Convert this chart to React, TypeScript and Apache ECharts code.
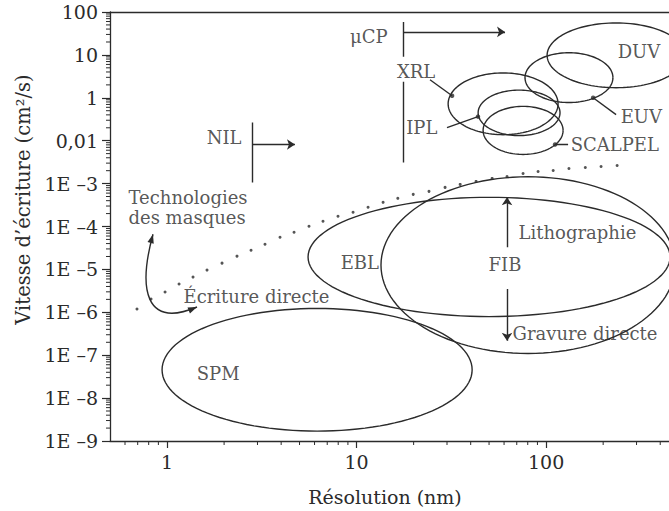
import React, { useEffect, useRef } from 'react';
import * as echarts from 'echarts';

// ---- axes ----
const yTickLabels = ['1E –9', '1E –8', '1E –7', '1E –6', '1E –5', '1E –4', '1E –3', '0,01', '1', '10', '100'];
const xTickValues = [1, 10, 100];
const xTickLabels = ['1', '10', '100'];
const xMinorTickValues = [0.6, 0.7, 0.8, 0.9, 2, 3, 4, 5, 6, 7, 8, 9, 20, 30, 40, 50, 60, 70, 80, 90, 200, 300, 400];
const yMinorTickOffsets = [0.301, 0.477, 0.602, 0.699, 0.778, 0.845, 0.903, 0.954];

// ---- technology regions (resolution nm centre, speed level centre, half-width in decades, half-height in levels) ----
const regionNames = ['SPM', 'EBL', 'FIB', 'XRL', 'IPL', 'SCALPEL', 'EUV', 'DUV'];
const regionCenterNm = [6.19, 50, 80.3, 59.3, 72, 75.6, 132, 234];
const regionCenterLevel = [1.66, 4.29, 4.1, 7.86, 7.65, 7.24, 8.47, 8.99];
const regionHalfDecades = [0.818, 0.955, 0.776, 0.29, 0.216, 0.211, 0.232, 0.364];
const regionHalfLevels = [1.43, 1.39, 2.06, 0.72, 0.53, 0.56, 0.58, 0.755];

// ---- dotted boundary (masks vs direct writing) ----
const dottedNm = [0.694, 0.823, 0.976, 1.157, 1.371, 1.625, 1.95, 2.339, 2.774, 3.288, 3.945, 4.677, 5.61, 6.65, 7.98, 9.58, 11.5, 13.8, 16.5, 19.9, 24.1, 29.3, 35.2, 42.7, 51.9, 62.2, 75.6, 90.7, 109, 132, 161, 195, 237];
const dottedLevel = [3.078, 3.31, 3.473, 3.659, 3.821, 3.984, 4.146, 4.309, 4.448, 4.588, 4.75, 4.866, 5.006, 5.122, 5.238, 5.331, 5.447, 5.563, 5.656, 5.749, 5.819, 5.912, 5.981, 6.051, 6.121, 6.167, 6.237, 6.283, 6.307, 6.353, 6.376, 6.399, 6.423];

// ---- annotation marks ----
const plainSegments = [
  [[2.81, 7.422], [2.81, 6.028]],
  [[17.6, 9.768], [17.6, 8.955]],
  [[17.6, 8.374], [17.6, 6.492]],
  [[24.4, 8.42], [31.9, 8.049]],
  [[30.0, 7.305], [43.7, 7.561]],
  [[111.5, 6.911], [130.6, 6.911]],
  [[177, 8.002], [234, 7.607]],
];
const arrowSegments = [
  [[2.81, 6.911], [4.73, 6.911]],
  [[17.6, 9.536], [60.7, 9.536]],
  [[62.2, 4.518], [62.2, 5.679]],
  [[62.2, 3.542], [62.2, 2.334]],
];
// cubic curve: start, control 1, control 2, end (nm, level pairs)
const curvedArrow = [0.843, 4.82, 0.703, 3.542, 0.765, 2.613, 1.439, 3.124];
const markerDots = [[31.9, 8.049], [43.7, 7.561], [111.5, 6.911], [177, 8.002]];

// ---- texts ----
const labelTexts = ['SPM', 'EBL', 'FIB', 'Lithographie', 'Gravure directe', 'Écriture directe', 'Technologies\ndes masques', 'NIL', 'μCP', 'XRL', 'IPL', 'SCALPEL', 'EUV', 'DUV'];
const labelNm = [1.86, 10.4, 60.7, 71.1, 66.1, 1.214, 0.622, 2.0, 11.6, 20.6, 22.1, 134, 246, 309];
const labelLevel = [1.568, 4.17, 4.123, 4.866, 2.497, 3.357, 5.447, 7.073, 9.419, 8.606, 7.305, 6.911, 7.561, 9.071];
const leftAlignedLabels = new Set(['Lithographie', 'Gravure directe', 'Écriture directe', 'Technologies\ndes masques', 'SCALPEL', 'EUV']);

const FONT = 'DejaVu Serif';
const INK = '#2b2b2b';
const X_MIN = 0.5;
const X_MAX = 445;

function arrowHead(tip: number[], from: number[], len: number, half: number) {
  const dx = tip[0] - from[0];
  const dy = tip[1] - from[1];
  const d = Math.sqrt(dx * dx + dy * dy) || 1;
  const ux = dx / d;
  const uy = dy / d;
  const bx = tip[0] - ux * len;
  const by = tip[1] - uy * len;
  return [
    [tip[0], tip[1]],
    [bx - uy * half, by + ux * half],
    [bx + uy * half, by - ux * half],
  ];
}

export default function App() {
  const ref = useRef<HTMLDivElement>(null);
  useEffect(() => {
    if (!ref.current) return;
    document.body.style.margin = '0';
    document.body.style.overflow = 'hidden';
    const chart = echarts.init(ref.current, null, { renderer: 'svg' });

    const regionData = regionNames.map((n, i) => ({
      name: n,
      value: [regionCenterNm[i], regionCenterLevel[i], regionHalfDecades[i], regionHalfLevels[i]],
    }));

    const xMinorData = xMinorTickValues.map((v) => [v, 0]);
    const yMinorData: number[][] = [];
    for (let l = 0; l < yTickLabels.length - 1; l++) {
      yMinorTickOffsets.forEach((o) => yMinorData.push([X_MIN, l + o]));
    }

    const labelData = labelTexts.map((t, i) => {
      const left = leftAlignedLabels.has(t);
      return {
        name: t,
        value: [labelNm[i], labelLevel[i]],
        label: left
          ? { position: 'right', distance: 0, align: 'left' }
          : { position: 'inside', align: 'center' },
      };
    });

    const option: any = {
      animation: false,
      backgroundColor: '#ffffff',
      grid: { left: 110, right: 0, top: 12, bottom: 68.5, containLabel: false },
      xAxis: [
        {
          type: 'log',
          min: X_MIN,
          max: X_MAX,
          position: 'bottom',
          name: 'Résolution (nm)',
          nameLocation: 'middle',
          nameGap: 46,
          nameTextStyle: { fontFamily: FONT, fontSize: 19, color: INK, padding: [0, 9, 0, 0] },
          axisLine: { lineStyle: { color: INK, width: 1.3 } },
          axisTick: { show: true, length: 7, lineStyle: { color: INK, width: 1.2 } },
          minorTick: { show: false },
          splitLine: { show: false },
          axisLabel: {
            fontFamily: FONT,
            fontSize: 19,
            color: INK,
            margin: 11,
            showMinLabel: false,
            showMaxLabel: false,
            formatter: (v: number) => {
              const idx = xTickValues.findIndex((t) => Math.abs(t - v) / t < 1e-6);
              return idx >= 0 ? xTickLabels[idx] : '';
            },
          },
        },
        {
          type: 'log',
          min: X_MIN,
          max: X_MAX,
          position: 'top',
          axisLine: { show: true, lineStyle: { color: INK, width: 1.3 } },
          axisTick: { show: false },
          axisLabel: { show: false },
          splitLine: { show: false },
        },
      ],
      yAxis: {
        type: 'value',
        min: 0,
        max: 10,
        interval: 1,
        name: 'Vitesse d’écriture (cm²/s)',
        nameLocation: 'middle',
        nameGap: 75,
        nameTextStyle: { fontFamily: FONT, fontSize: 19.5, color: INK, padding: [0, 0, 0, 54] },
        axisLine: { show: true, lineStyle: { color: INK, width: 1.3 } },
        axisTick: { show: true, length: 8, lineStyle: { color: INK, width: 1.2 } },
        splitLine: { show: false },
        axisLabel: {
          fontFamily: FONT,
          fontSize: 19,
          color: INK,
          margin: 12,
          formatter: (v: number) => yTickLabels[Math.round(v)] ?? '',
        },
      },
      series: [
        {
          type: 'custom',
          name: 'regions',
          coordinateSystem: 'cartesian2d',
          clip: true,
          data: regionData,
          renderItem: (params: any, api: any) => {
            const cx = Math.log10(api.value(0));
            const cy = api.value(1);
            const rx = api.value(2);
            const ry = api.value(3);
            const pts: number[][] = [];
            const N = 120;
            for (let k = 0; k <= N; k++) {
              const t = (k / N) * Math.PI * 2;
              pts.push(api.coord([Math.pow(10, cx + rx * Math.cos(t)), cy + ry * Math.sin(t)]));
            }
            return {
              type: 'polyline',
              shape: { points: pts },
              style: { fill: 'none', stroke: INK, lineWidth: 1.4 },
            };
          },
        },
        {
          type: 'custom',
          name: 'xMinorTicks',
          coordinateSystem: 'cartesian2d',
          clip: false,
          data: xMinorData,
          renderItem: (params: any, api: any) => {
            const p = api.coord([api.value(0), api.value(1)]);
            return {
              type: 'line',
              shape: { x1: p[0], y1: p[1], x2: p[0], y2: p[1] + 4 },
              style: { stroke: INK, lineWidth: 1 },
            };
          },
        },
        {
          type: 'custom',
          name: 'yMinorTicks',
          coordinateSystem: 'cartesian2d',
          clip: false,
          data: yMinorData,
          renderItem: (params: any, api: any) => {
            const p = api.coord([api.value(0), api.value(1)]);
            return {
              type: 'line',
              shape: { x1: p[0] - 4, y1: p[1], x2: p[0], y2: p[1] },
              style: { stroke: INK, lineWidth: 1 },
            };
          },
        },
        {
          type: 'custom',
          name: 'curvedArrow',
          coordinateSystem: 'cartesian2d',
          clip: false,
          data: [curvedArrow],
          renderItem: (params: any, api: any) => {
            const p = [0, 1, 2, 3].map((i) => api.coord([api.value(2 * i), api.value(2 * i + 1)]));
            return {
              type: 'group',
              children: [
                {
                  type: 'bezierCurve',
                  shape: {
                    x1: p[0][0], y1: p[0][1],
                    cpx1: p[1][0], cpy1: p[1][1],
                    cpx2: p[2][0], cpy2: p[2][1],
                    x2: p[3][0], y2: p[3][1],
                  },
                  style: { fill: 'none', stroke: INK, lineWidth: 1.4 },
                },
                {
                  type: 'polygon',
                  shape: { points: arrowHead(p[0], p[1], 9, 3.2) },
                  style: { fill: INK },
                },
                {
                  type: 'polygon',
                  shape: { points: arrowHead(p[3], p[2], 9, 3.2) },
                  style: { fill: INK },
                },
              ],
            };
          },
        },
        {
          type: 'scatter',
          name: 'boundary',
          symbol: 'circle',
          symbolSize: 3,
          itemStyle: { color: INK },
          data: dottedNm.map((x, i) => [x, dottedLevel[i]]),
        },
        {
          type: 'scatter',
          name: 'markers',
          symbol: 'circle',
          symbolSize: 4.5,
          itemStyle: { color: INK },
          data: markerDots,
        },
        {
          type: 'lines',
          name: 'segments',
          coordinateSystem: 'cartesian2d',
          symbol: ['none', 'none'],
          lineStyle: { color: INK, width: 1.4, opacity: 1 },
          data: plainSegments.map((c) => ({ coords: c })),
        },
        {
          type: 'lines',
          name: 'arrows',
          coordinateSystem: 'cartesian2d',
          symbol: ['none', 'arrow'],
          symbolSize: 8,
          lineStyle: { color: INK, width: 1.4, opacity: 1 },
          data: arrowSegments.map((c) => ({ coords: c })),
        },
        {
          type: 'scatter',
          name: 'texts',
          symbol: 'circle',
          symbolSize: 1,
          itemStyle: { color: 'rgba(0,0,0,0)' },
          silent: true,
          label: {
            show: true,
            formatter: '{b}',
            fontFamily: FONT,
            fontSize: 18,
            color: INK,
            lineHeight: 20,
          },
          data: labelData,
        },
      ],
    };
    chart.setOption(option);
    return () => chart.dispose();
  }, []);
  return <div ref={ref} style={{ position: 'fixed', left: 0, top: 0, width: 669, height: 511 }} />;
}
